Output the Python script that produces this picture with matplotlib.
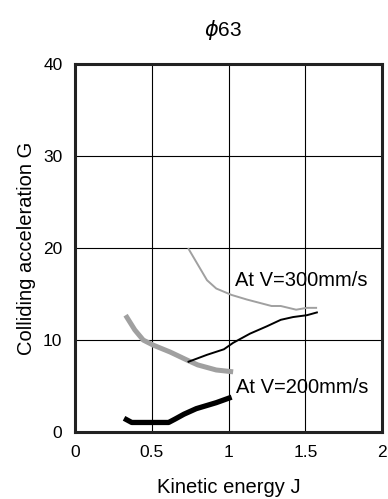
import numpy as np
import matplotlib
matplotlib.use("Agg")
import matplotlib.pyplot as plt

plt.rcParams['font.family'] = ['Liberation Sans', 'DejaVu Sans']

# thin gray curve (V=300mm/s)
e_300_thin = [0.74, 0.86, 0.92, 1.02, 1.12, 1.28, 1.34, 1.44, 1.51, 1.57]
g_300_thin = [19.9, 16.5, 15.6, 14.9, 14.4, 13.7, 13.7, 13.3, 13.5, 13.5]
# thick gray curve
e_300_thick = [0.33, 0.39, 0.445, 0.51, 0.62, 0.74, 0.80, 0.92, 1.03]
g_300_thick = [12.7, 11.1, 10.0, 9.45, 8.7, 7.75, 7.3, 6.75, 6.55]
# thin black curve
e_200_thin = [0.74, 0.86, 0.97, 1.03, 1.14, 1.25, 1.34, 1.42, 1.51, 1.575]
g_200_thin = [7.65, 8.4, 9.0, 9.7, 10.7, 11.5, 12.2, 12.5, 12.7, 13.0]
# thick black curve (V=200mm/s)
e_200_thick = [0.32, 0.37, 0.61, 0.65, 0.71, 0.79, 0.92, 1.02]
g_200_thick = [1.5, 1.05, 1.05, 1.4, 1.95, 2.55, 3.2, 3.8]

fig = plt.figure(figsize=(3.88, 4.99), dpi=100)
ax = fig.add_axes([0.193, 0.134, 0.792, 0.738])

ax.plot(e_300_thin, g_300_thin, color='#a0a0a0', lw=1.4)
ax.plot(e_300_thick, g_300_thick, color='#a0a0a0', lw=3.6, solid_capstyle='butt')
ax.plot(e_200_thin, g_200_thin, color='black', lw=1.4)
ax.plot(e_200_thick, g_200_thick, color='black', lw=3.8, solid_capstyle='butt')

ax.text(1.045, 16.5, 'At V=300mm/s', fontsize=14.5, va='center', ha='left')
ax.text(1.05, 4.9, 'At V=200mm/s', fontsize=14.5, va='center', ha='left')

ax.set_xlim(0, 2)
ax.set_ylim(0, 40)
ax.set_xticks([0, 0.5, 1, 1.5, 2])
ax.set_xticklabels(['0', '0.5', '1', '1.5', '2'])
ax.set_yticks([0, 10, 20, 30, 40])
ax.grid(True, color='black', lw=0.8)
ax.tick_params(length=0, labelsize=12.5)
ax.tick_params(axis='x', pad=9)
ax.tick_params(axis='y', pad=9)
for s in ax.spines.values():
    s.set_linewidth(2.2)
    s.set_color('#222222')

ax.set_xlabel('Kinetic energy J', fontsize=14.5, labelpad=13)
ax.set_ylabel('Colliding acceleration G', fontsize=14.5, labelpad=5)
fig.text(0.575, 0.94, '$\\phi$63', fontsize=15, ha='center', va='center')

fig.savefig('out.png', dpi=100)
